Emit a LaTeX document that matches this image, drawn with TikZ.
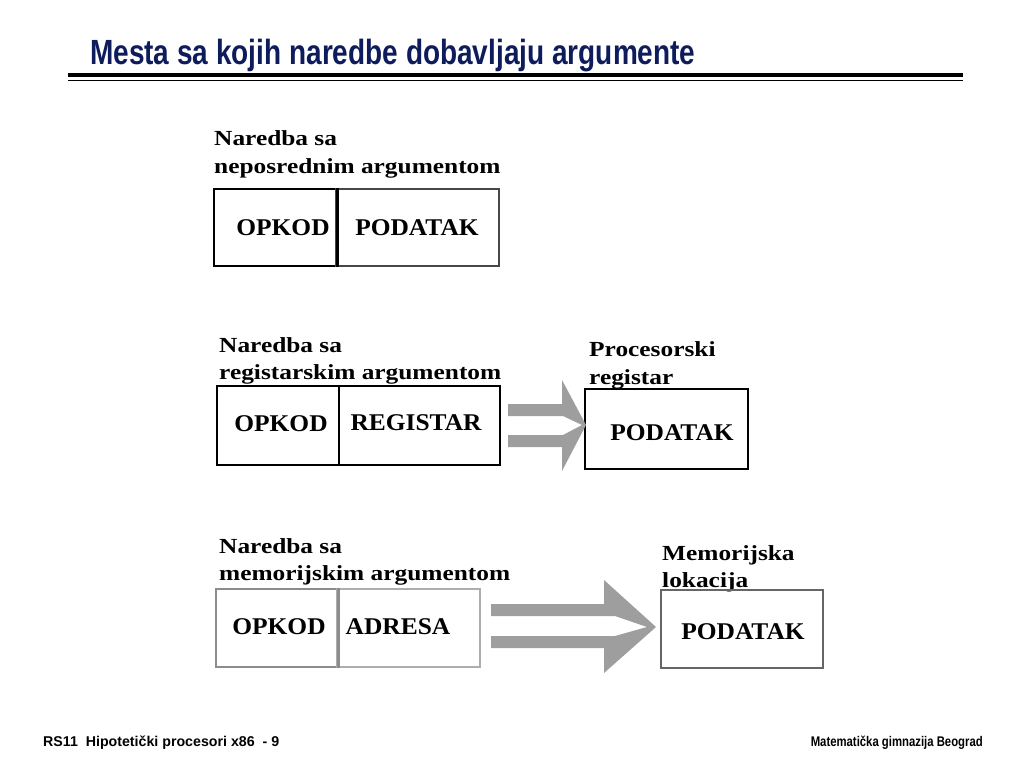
\documentclass[tikz,border=0pt]{standalone}
\usepackage{fontspec}
\setmainfont{Liberation Serif}
\newfontfamily\labserif[FakeStretch=1.18]{Liberation Serif}
\newfontfamily\boxserif[FakeStretch=1.06]{Liberation Serif}
\newfontfamily\narrowsans[FakeStretch=0.80]{Liberation Sans}
\newfontfamily\footnarrow[FakeStretch=0.81]{Liberation Sans}
\newfontfamily\plainsans{Liberation Sans}
\definecolor{titleblue}{RGB}{14,28,92}
\definecolor{arrowgray}{RGB}{158,158,158}
\begin{document}
\begin{tikzpicture}[x=1pt,y=-1pt,
  box/.style={draw=black,line width=2.8pt,inner sep=0pt},
  boxtext/.style={font=\boxserif\fontsize{24}{28}\selectfont\bfseries,inner sep=0pt,anchor=base},
  lab/.style={font=\labserif\fontsize{21.5}{26}\selectfont\bfseries,inner sep=0pt,anchor=base west},
  fatarrow/.style={fill=arrowgray,draw=none}]
\useasboundingbox (0,0) rectangle (1024,768);
% title
\node[anchor=base west,inner sep=0pt,text=titleblue,font=\narrowsans\fontsize{35}{40}\selectfont\bfseries] (title) at (90,64) {Mesta sa kojih naredbe dobavljaju argumente};
\draw[line width=4pt] (68,75) -- (963,75);
\draw[line width=1.2pt] (68,80.5) -- (963,80.5);
% group 1
\node[lab] (l1a) at (214,145) {Naredba sa};
\node[lab] (l1b) at (214,173) {neposrednim argumentom};
\node[box,minimum width=122pt,minimum height=77pt] (op1) at (275,227.5) {};
\node[box,draw=black!72,minimum width=163pt,minimum height=77pt] (pd1) at (417.5,227.5) {};
\node[boxtext] (op1t) at (283,235) {OPKOD};
\node[boxtext] (pd1t) at (417,235) {PODATAK};
\draw[line width=2.8pt] (op1.north east) -- (op1.south east);
% group 2
\node[lab] (l2a) at (219,352) {Naredba sa};
\node[lab] (l2b) at (219,379) {registarskim argumentom};
\node[box,minimum width=122pt,minimum height=79pt] (op2) at (278,425.5) {};
\node[box,minimum width=161pt,minimum height=79pt] (rg2) at (419.5,425.5) {};
\node[boxtext] (op2t) at (281,431) {OPKOD};
\node[boxtext] (rg2t) at (416,430) {REGISTAR};
\node[lab] (l2c) at (589,356) {Procesorski};
\node[lab] (l2d) at (589,384) {registar};
\node[box,minimum width=163pt,minimum height=80pt] (pd2) at (666.5,429) {};
\node[boxtext] (pd2t) at (672,440) {PODATAK};
\fill[fatarrow] (508,404) -- (562,404) -- (562,380) -- (586,425) -- (562,471) -- (562,447) -- (508,447) -- (508,435) -- (563,435) -- (582,425) -- (563,416) -- (508,416) -- cycle;
% group 3
\node[lab] (l3a) at (219,553) {Naredba sa};
\node[lab] (l3b) at (219,580) {memorijskim argumentom};
\node[box,draw=black!45,minimum width=121pt,minimum height=78pt] (op3) at (276.5,628) {};
\node[box,draw=black!32,minimum width=143pt,minimum height=78pt] (ad3) at (408.5,628) {};
\draw[line width=2.8pt,black!45] (op3.north east) -- (op3.south east);
\node[boxtext] (op3t) at (279,634) {OPKOD};
\node[boxtext] (ad3t) at (398,634) {ADRESA};
\node[lab] (l3c) at (662,560) {Memorijska};
\node[lab] (l3d) at (662,587) {lokacija};
\node[box,draw=black!60,minimum width=162pt,minimum height=78pt] (pd3) at (742,629) {};
\node[boxtext] (pd3t) at (743,639) {PODATAK};
\fill[fatarrow] (491,604) -- (604,604) -- (604,580) -- (656,627) -- (604,673) -- (604,648) -- (491,648) -- (491,636) -- (615,636) -- (647,627) -- (615,616) -- (491,616) -- cycle;
% footer
\node[anchor=base west,inner sep=0pt,font=\plainsans\fontsize{14.2}{16}\selectfont\bfseries] (f1) at (43,746) {RS11\ \ Hipotetički procesori x86\ \ - 9};
\node[anchor=base east,inner sep=0pt,font=\footnarrow\fontsize{14}{16}\selectfont\bfseries] (f2) at (983,746) {Matematička gimnazija Beograd};
\end{tikzpicture}
\end{document}
